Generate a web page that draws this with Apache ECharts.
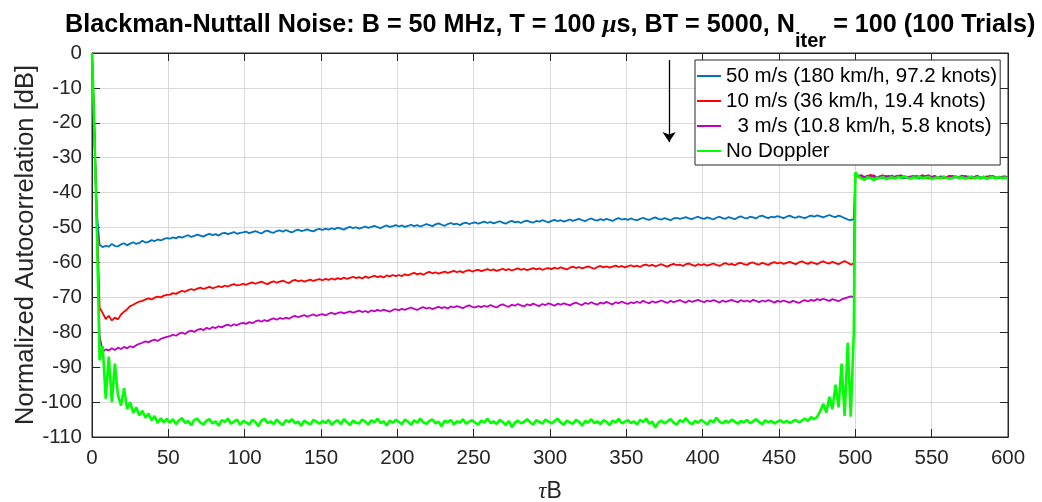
<!DOCTYPE html>
<html>
<head>
<meta charset="utf-8">
<title>Blackman-Nuttall Noise Autocorrelation</title>
<script src="https://cdn.jsdelivr.net/npm/echarts@6/dist/echarts.min.js"></script>
<style>
  html, body { margin: 0; padding: 0; background: #fff; }
  #chart { width: 1042px; height: 502px; }
</style>
</head>
<body>
<div id="chart"></div>
<script>
// Autocorrelation sidelobes (dB) versus lag tau*B.
// Main segment: tau*B = 0, then odd lags 1..499; tail segment: 500..600 in steps of 2.

const legendNames = [
  '50 m/s (180 km/h, 97.2 knots)',
  '10 m/s (36 km/h, 19.4 knots)',
  '  3 m/s (10.8 km/h, 5.8 knots)',
  'No Doppler'
];
const lineColors = ['#0072BD', '#FF0000', '#C000C0', '#00FF00'];

const xTicks = [0, 50, 100, 150, 200, 250, 300, 350, 400, 450, 500, 550, 600];
const yTicks = [0, -10, -20, -30, -40, -50, -60, -70, -80, -90, -100, -110];

// 50 m/s
const v50 = [0,
  -14,-45,-55.0,-55.6,-55.2,-55.5,-54.7,-55.3,-55.4,-54.8,-54.5,-55.1,-54.6,-54.2,-54.7,-54.4,-53.8,-54.3,-54.1,-53.6,-53.9,-53.4,-53.7,-53.3,-53.0,
  -53.2,-52.8,-53.1,-52.6,-52.9,-52.5,-52.2,-52.7,-52.4,-52.0,-52.3,-52.6,-52.1,-51.8,-52.2,-51.9,-52.3,-51.7,-51.5,-51.9,-51.6,-51.3,-51.8,-51.5,-51.4,
  -51.2,-51.6,-51.3,-51.0,-51.4,-51.7,-51.1,-50.9,-51.3,-51.5,-51.0,-50.8,-51.2,-50.7,-51.1,-51.4,-50.9,-50.6,-51.0,-50.8,-50.5,-50.9,-51.1,-50.6,-50.4,
  -50.7,-50.3,-50.6,-50.2,-50.5,-50.0,-50.3,-50.6,-50.1,-49.8,-50.2,-49.9,-50.3,-50.0,-49.7,-50.1,-49.8,-49.5,-49.9,-50.2,-49.7,-49.4,-49.8,-49.6,-49.3,
  -49.7,-49.4,-49.8,-49.5,-49.2,-49.6,-49.3,-49.7,-49.4,-49.0,-49.3,-49.6,-49.1,-48.8,-49.2,-49.5,-49.0,-48.7,-49.1,-48.9,-49.3,-48.8,-48.6,-49.0,-48.7,
  -48.5,-48.9,-48.6,-48.3,-48.7,-48.4,-48.8,-48.5,-48.2,-48.6,-48.9,-48.4,-48.1,-48.5,-48.3,-48.7,-48.2,-48.0,-48.4,-48.6,-48.1,-48.3,-47.9,-48.2,-48.5,
  -48.1,-47.8,-48.2,-47.9,-48.3,-48.0,-47.7,-48.1,-47.8,-47.5,-47.9,-48.2,-47.7,-47.4,-47.8,-48.0,-47.6,-47.9,-47.5,-47.8,-48.1,-47.6,-47.3,-47.7,-47.5,
  -47.8,-47.4,-47.7,-47.9,-47.5,-47.2,-47.6,-47.8,-47.4,-47.1,-47.5,-47.7,-47.3,-47.6,-47.9,-47.4,-47.2,-47.5,-47.3,-47.0,-47.4,-47.6,-47.2,-46.9,-47.3,
  -47.5,-47.1,-47.4,-47.7,-47.2,-46.9,-47.3,-47.5,-47.0,-47.3,-47.6,-47.1,-46.8,-47.2,-47.4,-46.9,-47.1,-47.4,-46.8,-46.6,-47.0,-47.3,-46.9,-47.1,-46.7,
  -47.0,-47.3,-46.9,-46.6,-47.0,-47.2,-46.8,-47.1,-47.3,-46.9,-46.6,-46.9,-46.5,-46.8,-47.1,-46.7,-46.4,-46.8,-47.0,-46.6,-46.9,-47.3,-47.7,-47.9,-47.6
];
const v50Tail = [
  -34.6,-35.3,-35.8,-35.4,-35.9,-35.5,-35.2,-35.7,-35.4,-35.9,-35.6,-35.3,-35.8,-35.5,-35.2,-35.6,-35.9,-35.4,-35.7,-35.3,
  -35.6,-36.0,-35.5,-35.2,-35.7,-35.4,-35.8,-35.5,-35.9,-35.3,-35.6,-35.2,-35.7,-35.5,-35.8,-35.4,-35.9,-35.6,-35.3,-35.7,
  -35.5,-36.0,-35.6,-35.3,-35.8,-35.5,-35.9,-35.6,-35.4,-35.8,-35.6
];

// 10 m/s
const v10 = [0,
  -14,-45,-73,-74.5,-76.2,-75.3,-76.6,-75.8,-76.3,-74.9,-74.1,-73.4,-72.5,-72.1,-71.6,-71.2,-71.0,-70.6,-70.3,-70.6,-70.1,-69.8,-70.0,-69.5,-69.3,
  -69.2,-68.8,-69.0,-68.5,-68.1,-68.4,-67.9,-67.6,-67.9,-67.5,-67.2,-67.6,-67.3,-67.0,-67.4,-67.1,-66.8,-67.1,-66.6,-66.9,-66.5,-66.2,-66.6,-66.4,-66.1,
  -66.4,-66.0,-65.7,-66.1,-65.8,-65.5,-65.9,-66.2,-65.7,-65.4,-65.8,-65.5,-65.2,-65.6,-65.9,-65.3,-65.0,-65.4,-65.1,-65.5,-65.2,-64.9,-65.3,-65.0,-64.8,
  -65.1,-64.7,-65.0,-64.6,-64.9,-64.5,-64.8,-64.3,-64.7,-64.4,-64.1,-64.5,-64.2,-64.6,-64.0,-64.4,-64.1,-63.8,-64.2,-63.9,-64.3,-63.7,-64.0,-63.6,-63.9,
  -63.6,-63.9,-63.4,-63.7,-63.3,-63.0,-63.4,-63.1,-63.5,-63.0,-62.7,-63.1,-62.8,-63.2,-62.9,-62.6,-63.0,-62.7,-62.4,-62.8,-62.5,-62.9,-62.4,-62.2,-62.6,
  -62.3,-62.1,-62.5,-62.2,-61.9,-62.3,-62.0,-62.4,-62.1,-61.8,-62.2,-61.9,-62.3,-62.0,-61.7,-62.1,-61.8,-62.2,-61.9,-61.6,-62.0,-61.7,-62.1,-61.8,-61.6,
  -61.9,-61.5,-61.8,-61.4,-61.7,-62.0,-61.5,-61.2,-61.6,-61.3,-61.7,-61.4,-61.1,-61.5,-61.8,-61.3,-61.0,-61.4,-61.1,-61.5,-61.2,-60.9,-61.3,-61.0,-61.4,
  -61.1,-60.8,-61.2,-60.9,-61.3,-60.8,-60.6,-61.0,-60.7,-61.1,-60.8,-60.5,-60.9,-61.2,-60.7,-60.4,-60.8,-60.6,-61.0,-60.5,-60.3,-60.7,-61.0,-60.5,-60.8,
  -60.5,-60.9,-60.6,-60.3,-60.7,-61.0,-60.5,-60.2,-60.6,-60.4,-60.8,-60.3,-60.1,-60.5,-60.7,-60.2,-60.0,-60.4,-60.6,-60.1,-60.4,-60.7,-60.2,-59.9,-60.3,
  -60.0,-60.4,-60.1,-59.8,-60.2,-60.5,-60.0,-59.7,-60.1,-60.4,-59.9,-60.2,-60.5,-60.0,-59.7,-60.1,-60.3,-59.8,-60.2,-60.5,-60.0,-59.6,-60.1,-60.6,-60.3
];
const v10Tail = [
  -34.8,-35.6,-35.1,-35.7,-35.3,-34.9,-35.5,-36.1,-35.4,-35.0,-35.6,-35.2,-35.8,-35.4,-35.1,-35.7,-35.3,-35.9,-35.5,-35.2,
  -35.8,-35.4,-35.0,-35.6,-36.0,-35.5,-35.2,-35.7,-35.4,-35.9,-35.5,-35.1,-35.6,-35.3,-35.8,-35.5,-35.2,-35.7,-36.0,-35.5,
  -35.3,-35.8,-35.4,-35.7,-35.2,-35.6,-35.9,-35.4,-35.7,-35.5,-35.8
];

// 3 m/s
const v3 = [0,
  -14,-46,-81,-85.6,-84.9,-85.2,-84.6,-85.1,-84.4,-84.8,-84.2,-84.6,-84.0,-84.3,-83.7,-83.3,-83.0,-82.6,-82.9,-82.4,-82.1,-82.5,-81.9,-81.6,-81.3,
  -81.1,-80.7,-81.0,-80.4,-80.1,-80.5,-79.8,-79.5,-79.9,-79.3,-79.0,-79.4,-78.7,-79.1,-78.5,-78.8,-78.3,-78.6,-78.1,-77.8,-78.2,-77.7,-78.0,-77.5,-77.3,
  -77.6,-77.1,-77.4,-76.9,-76.6,-77.0,-76.5,-76.8,-76.3,-76.0,-76.4,-75.9,-76.2,-75.8,-76.1,-75.6,-75.3,-75.7,-75.4,-75.1,-75.5,-75.2,-74.9,-75.3,-75.0,
  -74.8,-75.2,-74.7,-74.4,-74.8,-74.5,-74.2,-74.6,-74.3,-74.0,-74.4,-74.1,-73.8,-74.2,-73.9,-74.3,-73.7,-74.0,-73.6,-73.9,-73.5,-73.8,-74.1,-73.6,-73.4,
  -73.7,-73.3,-73.6,-73.2,-72.9,-73.3,-73.6,-73.1,-72.8,-73.2,-72.9,-73.4,-73.0,-72.7,-73.1,-72.8,-73.2,-72.6,-72.9,-72.5,-72.8,-73.1,-72.6,-72.3,-72.7,
  -72.9,-72.5,-72.8,-72.4,-72.7,-72.2,-72.6,-72.9,-72.3,-72.0,-72.4,-72.7,-72.1,-72.4,-71.9,-72.3,-72.6,-72.0,-72.3,-71.8,-72.2,-72.5,-71.9,-72.2,-71.7,
  -72.0,-72.4,-71.8,-72.1,-71.7,-72.0,-72.3,-71.8,-71.5,-71.9,-72.2,-71.6,-71.9,-71.4,-71.8,-72.1,-71.5,-71.8,-71.3,-71.7,-72.0,-71.4,-71.7,-71.2,-71.6,
  -71.9,-71.4,-71.7,-71.2,-71.6,-71.0,-71.4,-71.7,-71.1,-71.5,-71.2,-70.9,-71.3,-71.6,-71.0,-71.4,-71.1,-70.8,-71.2,-71.5,-70.9,-71.3,-71.0,-70.7,-71.1,
  -71.4,-70.9,-71.2,-70.8,-71.1,-71.5,-70.9,-71.3,-71.0,-70.7,-71.1,-71.4,-70.8,-71.2,-70.9,-71.3,-70.7,-71.0,-71.4,-70.9,-71.2,-70.8,-71.1,-71.5,-71.0,
  -71.3,-70.9,-71.2,-71.5,-71.0,-71.3,-71.6,-71.1,-70.8,-71.2,-70.7,-71.0,-70.5,-70.8,-70.4,-70.7,-71.0,-70.5,-70.8,-71.1,-70.6,-70.3,-70.0,-69.7,-69.9
];
const v3Tail = [
  -34.5,-35.2,-35.0,-35.6,-35.1,-35.4,-35.0,-35.6,-35.3,-35.7,-35.2,-35.5,-35.1,-35.6,-35.4,-35.0,-35.5,-35.8,-35.3,-35.6,
  -35.2,-35.5,-35.8,-35.3,-35.0,-35.6,-35.4,-35.8,-35.3,-35.6,-35.9,-35.4,-35.2,-35.7,-35.5,-35.1,-35.6,-35.3,-35.8,-35.5,
  -35.2,-35.7,-35.4,-35.9,-35.5,-35.2,-35.6,-35.9,-35.5,-35.3,-35.7
];

// No Doppler
const v0 = [0,
  -14,-47,-88,-84,-99,-87,-100,-89,-98,-101,-96,-102,-100,-103,-101.5,-103.8,-102.5,-104.5,-103.3,-105.2,-104.0,-106.0,-104.6,-105.8,-104.8,
  -105.9,-104.9,-106.3,-105.2,-104.6,-106.0,-105.4,-106.6,-105.1,-104.8,-105.9,-106.4,-105.3,-104.9,-106.1,-105.5,-106.8,-105.2,-105.7,-104.7,-106.2,-105.6,-105.0,-106.5,-105.4,
  -105.8,-106.4,-105.1,-105.7,-106.9,-105.3,-104.8,-106.0,-105.5,-106.3,-105.0,-105.9,-106.6,-105.2,-105.7,-104.9,-106.1,-105.6,-106.8,-105.3,-105.9,-106.4,-105.1,-105.6,-106.2,
  -105.4,-106.0,-105.1,-106.5,-105.7,-105.2,-106.3,-104.9,-105.8,-106.6,-105.3,-105.9,-106.1,-105.0,-105.6,-106.4,-105.2,-105.8,-104.8,-106.0,-105.5,-106.7,-105.3,-105.9,-105.1,
  -105.7,-106.3,-105.0,-105.6,-106.5,-105.2,-105.9,-104.7,-105.8,-106.2,-105.4,-105.0,-106.1,-105.6,-106.9,-105.3,-105.8,-105.1,-106.4,-105.5,-105.9,-104.9,-106.2,-105.6,-105.2,
  -105.9,-106.5,-105.3,-105.8,-104.8,-106.0,-105.5,-106.3,-105.1,-105.7,-106.6,-105.4,-107.2,-105.9,-105.3,-106.1,-105.6,-104.9,-105.8,-106.4,-105.2,-105.7,-106.2,-105.0,-105.6,
  -106.1,-105.4,-104.7,-105.9,-106.5,-105.3,-105.8,-106.2,-105.1,-105.6,-106.8,-105.4,-105.9,-104.9,-106.0,-105.5,-106.3,-105.2,-105.7,-106.6,-105.3,-105.8,-104.8,-106.1,-105.6,
  -105.2,-106.0,-105.5,-106.4,-105.1,-105.7,-104.7,-106.2,-105.6,-107.3,-105.8,-105.3,-106.1,-105.5,-104.9,-105.9,-106.5,-105.2,-105.7,-104.6,-105.8,-106.3,-105.4,-105.9,-105.1,
  -105.7,-106.4,-105.2,-105.8,-104.5,-105.6,-106.1,-105.3,-105.9,-105.0,-105.6,-106.2,-105.4,-105.8,-105.1,-106.0,-105.5,-104.9,-105.7,-106.3,-105.2,-105.8,-105.4,-106.1,-105.6,
  -105.2,-105.9,-105.4,-106.0,-105.5,-105.1,-105.8,-105.3,-104.7,-105.4,-104.3,-104.9,-104.2,-102.6,-100.5,-103.0,-98.5,-102.0,-95.0,-101.5,-89.0,-104.0,-83.0,-104.2,-80.0
];
const v0Tail = [
  -34.2,-35.4,-35.9,-36.3,-35.6,-35.8,-36.4,-35.7,-35.9,-35.5,-36.1,-35.8,-35.6,-36.0,-35.5,-35.8,-35.3,-35.7,-36.0,-35.6,
  -35.8,-35.4,-35.9,-35.7,-35.5,-36.1,-35.8,-35.6,-35.9,-35.5,-35.8,-36.0,-35.7,-35.4,-35.8,-35.6,-36.0,-35.7,-35.5,-35.9,
  -35.6,-35.8,-35.5,-36.0,-35.7,-35.5,-35.9,-35.6,-35.8,-35.7,-35.9
];

// Lag grids for the two segments
const tauMain = [0];
for (let k = 1; k <= 499; k += 2) tauMain.push(k);
const tauTail = [];
for (let k = 500; k <= 600; k += 2) tauTail.push(k);

function pairs(main, tail) {
  const out = [];
  for (let i = 0; i < Math.min(tauMain.length, main.length); i++) out.push([tauMain[i], main[i]]);
  for (let i = 0; i < Math.min(tauTail.length, tail.length); i++) out.push([tauTail[i], tail[i]]);
  return out;
}

const seriesValues = [[v50, v50Tail], [v10, v10Tail], [v3, v3Tail], [v0, v0Tail]];
const lineWidths = [1.8, 1.8, 1.8, 2.6];

const FONT = "'Liberation Sans', Arial, Helvetica, sans-serif";
const SERIF = "'Liberation Serif', 'DejaVu Serif', serif";
const AXIS = '#262626';
const GRIDLINE = '#d9d9d9';

const chart = echarts.init(document.getElementById('chart'), null, { renderer: 'canvas' });

function xAxisDef(pos, labels) {
  return {
    type: 'value', position: pos, min: xTicks[0], max: xTicks[xTicks.length - 1], interval: 50,
    axisLine: { show: true, onZero: false, lineStyle: { color: AXIS, width: 1 } },
    axisTick: { show: true, inside: true, length: 8, lineStyle: { color: AXIS } },
    axisLabel: { show: labels, color: AXIS, fontSize: 20.5, fontFamily: FONT, margin: 11 },
    splitLine: { show: labels, lineStyle: { color: GRIDLINE, width: 1 } }
  };
}
function yAxisDef(pos, labels) {
  return {
    type: 'value', position: pos, min: yTicks[yTicks.length - 1], max: yTicks[0], interval: 10,
    axisLine: { show: true, onZero: false, lineStyle: { color: AXIS, width: 1 } },
    axisTick: { show: true, inside: true, length: 8, lineStyle: { color: AXIS } },
    axisLabel: { show: labels, color: AXIS, fontSize: 20.5, fontFamily: FONT, margin: 10 },
    splitLine: { show: labels, lineStyle: { color: GRIDLINE, width: 1 } }
  };
}

const xMain = xAxisDef('bottom', true);
xMain.name = '{t|τ}B';
xMain.nameLocation = 'middle';
xMain.nameGap = 43;
xMain.nameMoveOverlap = false;
xMain.nameTextStyle = {
  color: AXIS, fontSize: 23, fontFamily: FONT,
  rich: { t: { fontStyle: 'italic', fontFamily: SERIF, fontSize: 23, color: AXIS } }
};

const yMain = yAxisDef('left', true);
yMain.name = 'Normalized Autocorrelation [dB]';
yMain.nameLocation = 'middle';
yMain.nameGap = 53;
yMain.nameMoveOverlap = false;
yMain.nameTextStyle = { color: AXIS, fontSize: 25.5, fontFamily: FONT };

const xTop = xAxisDef('top', false);
const yRight = yAxisDef('right', false);

const series = legendNames.map((name, i) => ({
  name: name,
  type: 'line',
  xAxisIndex: 0,
  yAxisIndex: 0,
  data: pairs(seriesValues[i][0], seriesValues[i][1]),
  showSymbol: false,
  symbol: 'none',
  smooth: false,
  sampling: null,
  lineStyle: { color: lineColors[i], width: lineWidths[i] },
  itemStyle: { color: lineColors[i] },
  emphasis: { disabled: true },
  z: 2 + i
}));

// Arrow pointing toward decreasing Doppler speed
series[0].markLine = {
  silent: true,
  symbol: ['none', 'arrow'],
  symbolSize: 10,
  label: { show: false },
  lineStyle: { color: '#000', width: 1.3, type: 'solid' },
  emphasis: { disabled: true },
  data: [[{ coord: [378, -2] }, { coord: [378, -25.5] }]]
};

chart.setOption({
  animation: false,
  backgroundColor: '#ffffff',
  title: {
    text: '{b|Blackman-Nuttall Noise: B = 50 MHz, T = 100 }{mu|μ}{b|s, BT = 5000, N}{sub|iter}{b| = 100 (100 Trials)}',
    left: 65,
    top: -1,
    padding: 0,
    textStyle: {
      rich: {
        b: { fontSize: 25.2, fontWeight: 'bold', fontFamily: FONT, color: '#000', lineHeight: 52 },
        mu: { fontSize: 25.2, fontStyle: 'italic', fontFamily: SERIF, color: '#000', lineHeight: 52 },
        sub: { fontSize: 20, fontWeight: 'bold', fontFamily: FONT, color: '#000', lineHeight: 20, verticalAlign: 'bottom' }
      }
    }
  },
  grid: {
    left: 92, right: 34, top: 53, bottom: 65,
    outerBoundsMode: 'none',
    containLabel: false,
    show: true, borderColor: AXIS, borderWidth: 1, backgroundColor: '#fff'
  },
  legend: {
    data: legendNames,
    orient: 'vertical',
    left: 695,
    top: 60,
    padding: [5, 3, 3, 2],
    itemGap: 3,
    itemWidth: 24,
    itemHeight: 2,
    icon: 'rect',
    backgroundColor: '#fff',
    borderColor: AXIS,
    borderWidth: 1,
    borderRadius: 0,
    selectedMode: false,
    textStyle: { fontSize: 20.5, lineHeight: 22, color: '#000', fontFamily: FONT }
  },
  xAxis: [xMain, xTop],
  yAxis: [yMain, yRight],
  series: series
});
</script>
</body>
</html>
